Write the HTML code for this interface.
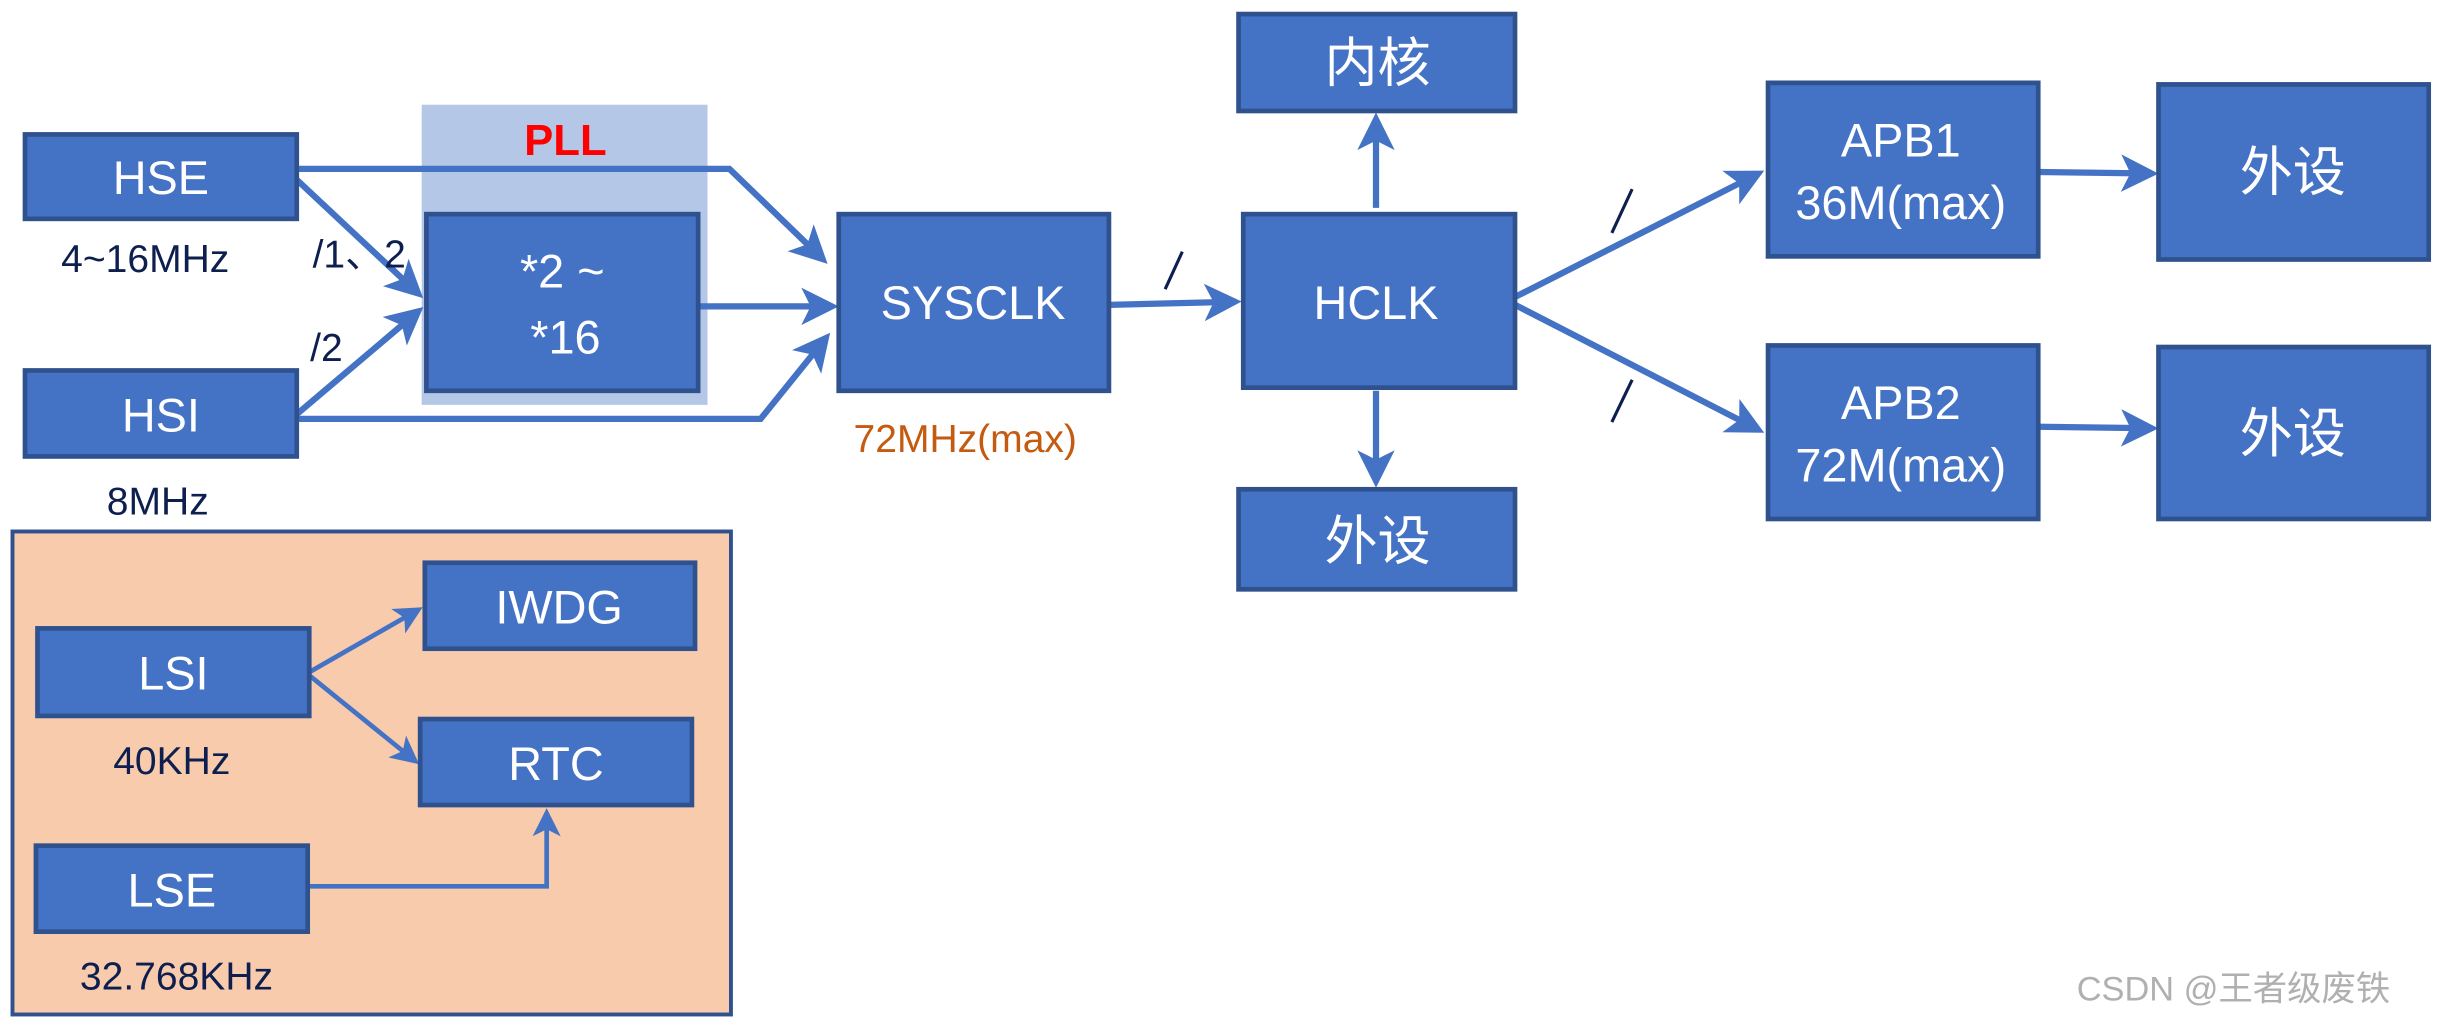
<!DOCTYPE html>
<html><head><meta charset="utf-8"><style>
html,body{margin:0;padding:0;background:#fff;}
svg{display:block;}
text{font-family:"Liberation Sans Narrow","Liberation Sans","Noto Sans CJK SC",sans-serif;}
.b{fill:#4472c4;stroke:#2f528f;stroke-width:3;}
.w{fill:#fff;font-size:30px;text-anchor:middle;}
.c{fill:#fff;font-size:34px;text-anchor:middle;font-family:"Noto Sans CJK SC",sans-serif;}
.l{fill:#0d1f4f;font-size:25px;text-anchor:middle;}
.ln{stroke:#4472c4;stroke-width:4;fill:none;}
.ln3{stroke:#4472c4;stroke-width:3;fill:none;}
.sl{stroke:#0d1f4f;stroke-width:2;}
</style></head><body>
<svg width="2449" height="1027" viewBox="0 0 1568 657" preserveAspectRatio="none">
<defs>
<marker id="a" markerWidth="6" markerHeight="6" refX="5" refY="3" orient="auto" markerUnits="strokeWidth"><path d="M0,0 L6,3 L0,6 L1.5,3 Z" fill="#4472c4"/></marker>
</defs>
<!-- PLL bg -->
<rect x="270" y="67" width="183" height="192" fill="#b4c7e7"/>
<text x="362" y="99" fill="#ff0000" font-size="28" font-weight="bold" text-anchor="middle">PLL</text>
<!-- LS region -->
<rect x="8" y="340" width="460" height="309" fill="#f8cbad" stroke="#2f528f" stroke-width="2.5"/>
<!-- lines -->
<polyline class="ln" points="190,108 467,108 527,166" marker-end="url(#a)"/>
<line class="ln" x1="190" y1="115" x2="268" y2="188" marker-end="url(#a)"/>
<line class="ln" x1="190" y1="265" x2="268" y2="199" marker-end="url(#a)"/>
<polyline class="ln" points="190,268 487,268 529,216" marker-end="url(#a)"/>
<line class="ln" x1="447" y1="196" x2="533" y2="196" marker-end="url(#a)"/>
<line class="ln" x1="710" y1="195" x2="791" y2="193" marker-end="url(#a)"/>
<line class="ln" x1="881" y1="133" x2="881" y2="76" marker-end="url(#a)"/>
<line class="ln" x1="881" y1="250" x2="881" y2="308" marker-end="url(#a)"/>
<line class="ln" x1="970" y1="190" x2="1126" y2="111" marker-end="url(#a)"/>
<line class="ln" x1="970" y1="195" x2="1126" y2="275" marker-end="url(#a)"/>
<line class="ln" x1="1305" y1="110" x2="1378" y2="111" marker-end="url(#a)"/>
<line class="ln" x1="1305" y1="273" x2="1378" y2="274" marker-end="url(#a)"/>
<line class="ln3" x1="198" y1="430" x2="268" y2="390" marker-end="url(#a)"/>
<line class="ln3" x1="198" y1="432" x2="266" y2="487" marker-end="url(#a)"/>
<polyline class="ln3" points="197,567 350,567 350,520" marker-end="url(#a)"/>
<!-- slashes -->
<line class="sl" x1="757" y1="161" x2="746" y2="185"/>
<line class="sl" x1="1045" y1="121" x2="1032" y2="149"/>
<line class="sl" x1="1045" y1="243" x2="1032" y2="270"/>
<!-- boxes -->
<rect class="b" x="16" y="86" width="174" height="54"/><text class="w" x="103" y="124">HSE</text>
<rect class="b" x="16" y="237" width="174" height="55"/><text class="w" x="103" y="276">HSI</text>
<rect class="b" x="273" y="137" width="174" height="113"/><text class="w" x="360" y="184">*2 ~</text><text class="w" x="362" y="226">*16</text>
<rect class="b" x="537" y="137" width="173" height="113"/><text class="w" x="623" y="204">SYSCLK</text>
<rect class="b" x="796" y="137" width="174" height="111"/><text class="w" x="881" y="204">HCLK</text>
<rect class="b" x="793" y="9" width="177" height="62"/><text class="c" x="882" y="52">内核</text>
<rect class="b" x="793" y="313" width="177" height="64"/><text class="c" x="882" y="358">外设</text>
<rect class="b" x="1132" y="53" width="173" height="111"/><text class="w" x="1217" y="100">APB1</text><text class="w" x="1217" y="140" font-size="25">36M(max)</text>
<rect class="b" x="1132" y="221" width="173" height="111"/><text class="w" x="1217" y="268">APB2</text><text class="w" x="1217" y="308" font-size="25">72M(max)</text>
<rect class="b" x="1382" y="54" width="173" height="112"/><text class="c" x="1468" y="122">外设</text>
<rect class="b" x="1382" y="222" width="173" height="110"/><text class="c" x="1468" y="289">外设</text>
<rect class="b" x="272" y="360" width="173" height="55"/><text class="w" x="358" y="399">IWDG</text>
<rect class="b" x="24" y="402" width="174" height="56"/><text class="w" x="111" y="441">LSI</text>
<rect class="b" x="269" y="460" width="174" height="55"/><text class="w" x="356" y="499">RTC</text>
<rect class="b" x="23" y="541" width="174" height="55"/><text class="w" x="110" y="580">LSE</text>
<!-- labels -->
<text class="l" x="93" y="174">4~16MHz</text>
<text class="l" x="230" y="171">/1、2</text>
<text class="l" x="209" y="231">/2</text>
<text class="l" x="101" y="329">8MHz</text>
<text class="l" x="618" y="289" fill="#c55a11" style="fill:#c55a11">72MHz(max)</text>
<text class="l" x="110" y="495">40KHz</text>
<text class="l" x="113" y="633">32.768KHz</text>
<text x="1430" y="640" fill="#b0b0b0" font-size="22" text-anchor="middle" style="font-family:'Liberation Sans','Noto Sans CJK SC',sans-serif">CSDN @王者级废铁</text>
</svg>
</body></html>
